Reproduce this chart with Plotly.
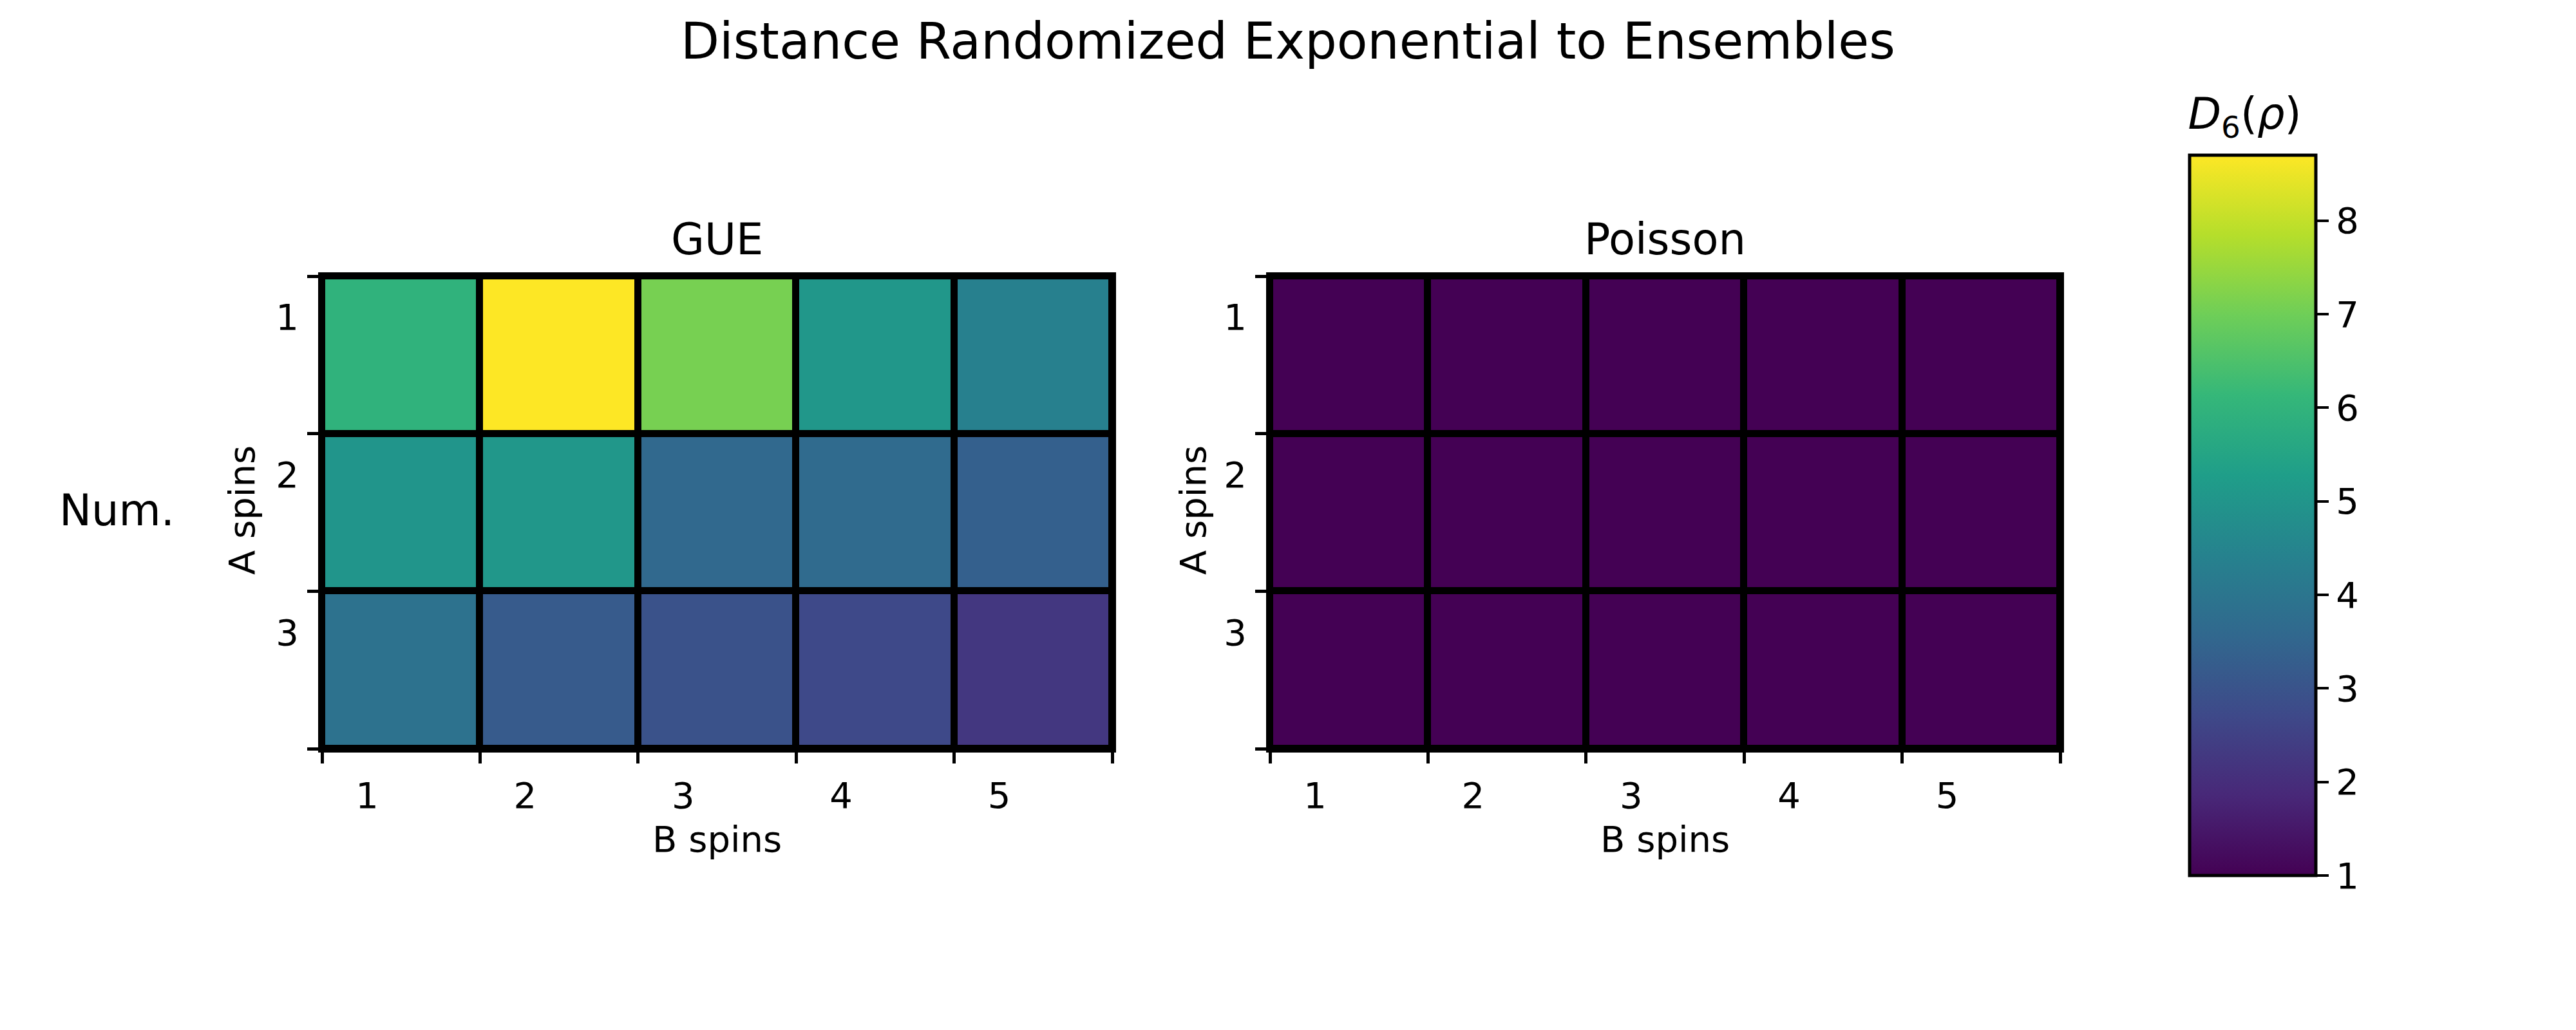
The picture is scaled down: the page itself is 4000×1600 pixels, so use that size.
"""Distance of randomized exponential to GUE / Poisson ensembles."""

import plotly.graph_objects as go

W, H = 4000, 1600
OFF = 8  # page body margin
FONT = "DejaVu Sans"

# data
b_spins = [1, 2, 3, 4, 5]
a_spins = [1, 2, 3]
b_labels = ["1", "2", "3", "4", "5"]
a_labels = ["1", "2", "3"]

gue = [
    [5.95, 8.7, 7.1, 5.05, 4.35],
    [5.0, 5.05, 3.6, 3.65, 3.35],
    [3.9, 3.2, 2.95, 2.7, 2.25],
]
poisson = [
    [1.01, 1.0, 1.0, 1.01, 1.0],
    [1.0, 1.01, 1.0, 1.0, 1.01],
    [1.0, 1.0, 1.01, 1.0, 1.0],
]
cbar_ticks = [1, 2, 3, 4, 5, 6, 7, 8]
vmin, vmax = 1.0, 8.7


def fx(p):
    return (p - OFF) / W


def fy(p):
    return 1 - (p - OFF) / H


fig = go.Figure()
for i, z in enumerate([gue, poisson]):
    fig.add_trace(
        go.Heatmap(
            x=b_spins,
            y=a_spins,
            z=z,
            coloraxis="coloraxis",
            xgap=11,
            ygap=11,
            xaxis="x" if i == 0 else "x2",
            yaxis="y" if i == 0 else "y2",
            hoverinfo="skip",
        )
    )

axis_common = dict(
    showline=True,
    linecolor="black",
    linewidth=6,
    mirror=True,
    showgrid=False,
    zeroline=False,
    ticks="outside",
    ticklen=19,
    tickwidth=4,
    tickcolor="rgba(0,0,0,0)",
    tickfont=dict(family=FONT, size=56, color="black"),
    fixedrange=True,
)
xb = [v - 0.5 for v in b_spins] + [b_spins[-1] + 0.5]
yb = [v - 0.5 for v in a_spins] + [a_spins[-1] + 0.5]
xticks = dict(
    axis_common,
    range=[0.5, 5.5],
    tickmode="array",
    tickvals=[v - 0.215 for v in b_spins],
    ticktext=b_labels,
    minor=dict(tickmode="array", tickvals=xb, ticks="outside", ticklen=17,
               tickwidth=5, tickcolor="black"),
)
yticks = dict(
    axis_common,
    range=[3.5, 0.5],
    tickmode="array",
    tickvals=[v - 0.24 for v in a_spins],
    ticktext=a_labels,
    minor=dict(tickmode="array", tickvals=yb, ticks="outside", ticklen=17,
               tickwidth=5, tickcolor="black"),
)

ydom = [fy(1163), fy(429)]
fig.update_layout(
    width=W,
    height=H,
    margin=dict(l=0, r=0, t=0, b=0),
    paper_bgcolor="white",
    plot_bgcolor="black",
    font=dict(family=FONT, color="black"),
    xaxis=dict(xticks, domain=[fx(500), fx(1727)], anchor="y"),
    yaxis=dict(yticks, domain=ydom, anchor="x"),
    xaxis2=dict(xticks, domain=[fx(1972), fx(3199)], anchor="y2"),
    yaxis2=dict(yticks, domain=ydom, anchor="x2"),
    coloraxis=dict(
        colorscale="Viridis",
        cmin=vmin,
        cmax=vmax,
        colorbar=dict(
            x=fx(3400),
            xanchor="left",
            xpad=0,
            ypad=0,
            y=fy(754.5),
            yanchor="middle",
            len=1211,
            lenmode="pixels",
            thickness=196,
            outlinewidth=5,
            outlinecolor="black",
            tickmode="array",
            tickvals=cbar_ticks,
            ticks="outside",
            ticklen=18,
            tickwidth=4,
            tickcolor="black",
            tickfont=dict(family=FONT, size=56, color="black"),
            title=dict(
                text="<i>D</i><sub>6</sub>(<i>ρ</i>)",
                side="top",
                font=dict(family=FONT, size=67, color="black"),
            ),
        ),
    ),
    showlegend=False,
)

notes = [
    ("Distance Randomized Exponential to Ensembles", 2000, 64, 78, 0),
    ("GUE", 1113.5, 372, 67, 0),
    ("Poisson", 2585.5, 372, 67, 0),
    ("B spins", 1113.5, 1303, 56, 0),
    ("B spins", 2585.5, 1303, 56, 0),
    ("A spins", 375, 793, 56, -90),
    ("A spins", 1852, 793, 56, -90),
    ("Num.", 181, 793, 67, 0),
]
for text, px, py, size, angle in notes:
    fig.add_annotation(
        text=text,
        x=fx(px),
        y=fy(py),
        xref="paper",
        yref="paper",
        xanchor="center",
        yanchor="middle",
        showarrow=False,
        textangle=angle,
        font=dict(family=FONT, size=size, color="black"),
    )

fig.write_html("out.html")
